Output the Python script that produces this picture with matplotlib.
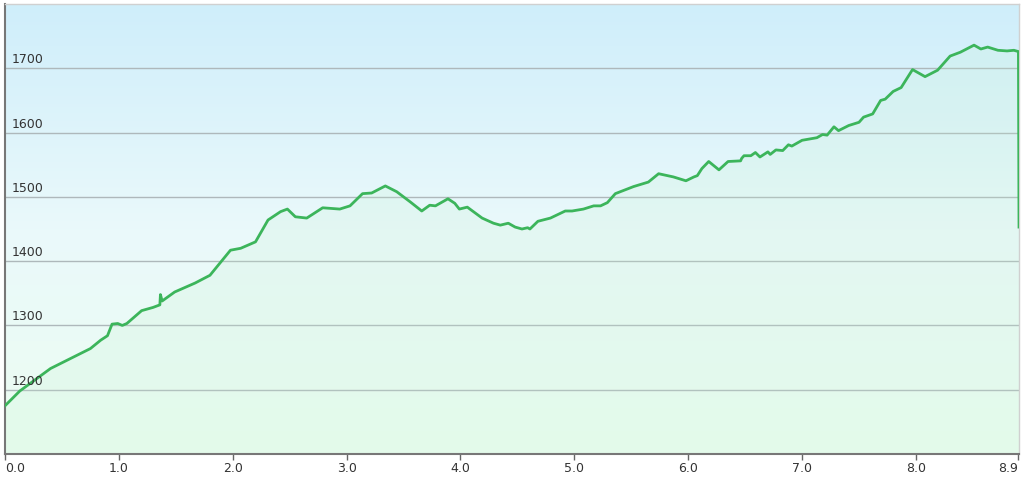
import numpy as np
import matplotlib.pyplot as plt
from matplotlib.colors import LinearSegmentedColormap

# distance (km) and elevation (m)
dist = [0.0, 0.13, 0.4, 0.75, 0.84, 0.9, 0.94, 0.99, 1.03, 1.07, 1.2, 1.3, 1.36, 1.365,
        1.38, 1.49, 1.67, 1.8, 1.98, 2.07, 2.2, 2.31, 2.42, 2.48, 2.55, 2.65, 2.79,
        2.94, 3.03, 3.14, 3.22, 3.34, 3.44, 3.56, 3.66, 3.73, 3.78, 3.89, 3.95, 3.99,
        4.06, 4.19, 4.29, 4.35, 4.42, 4.48, 4.54, 4.59, 4.61, 4.68, 4.79, 4.92, 4.98,
        5.08, 5.17, 5.23, 5.29, 5.36, 5.52, 5.65, 5.74, 5.87, 5.98, 6.05, 6.08, 6.12,
        6.18, 6.27, 6.35, 6.46, 6.47, 6.49, 6.55, 6.59, 6.63, 6.7, 6.72, 6.77, 6.83,
        6.88, 6.91, 7.0, 7.13, 7.18, 7.22, 7.28, 7.32, 7.41, 7.5, 7.54, 7.62, 7.69,
        7.73, 7.8, 7.87, 7.97, 8.08, 8.19, 8.3, 8.39, 8.51, 8.57, 8.63, 8.72, 8.8,
        8.86, 8.9, 8.905]
elev = [1175, 1198, 1233, 1264, 1277, 1284, 1302, 1303, 1300, 1303, 1323, 1328, 1332, 1348,
        1338, 1352, 1366, 1378, 1417, 1420, 1430, 1464, 1477, 1481, 1469, 1467, 1483,
        1481, 1486, 1505, 1506, 1517, 1508, 1492, 1478, 1487, 1486, 1497, 1490, 1481,
        1484, 1467, 1459, 1456, 1459, 1453, 1450, 1452, 1450, 1462, 1467, 1478, 1478,
        1481, 1486, 1486, 1491, 1505, 1516, 1523, 1536, 1531, 1525, 1531, 1533, 1544,
        1555, 1542, 1555, 1556, 1560, 1564, 1564, 1569, 1562, 1570, 1566, 1573, 1572,
        1581, 1579, 1588, 1592, 1597, 1596, 1609, 1603, 1611, 1616, 1624, 1629, 1650,
        1652, 1664, 1670, 1698, 1687, 1697, 1719, 1725, 1736, 1730, 1733, 1728, 1727,
        1728, 1726, 1453]

y_ticks = [1200, 1300, 1400, 1500, 1600, 1700]
x_ticks = [0, 1, 2, 3, 4, 5, 6, 7, 8, 8.9]
x_labels = ['0.0', '1.0', '2.0', '3.0', '4.0', '5.0', '6.0', '7.0', '8.0', '8.9']

fig = plt.figure(figsize=(10.24, 4.78), dpi=100)
ax = fig.add_axes([5 / 1024, 24 / 478, 1014 / 1024, 450 / 478])

xmax = 8.905
ax.set_xlim(0, xmax)
ax.set_ylim(1100, 1800)

# background gradient, light blue on top to light green at bottom
bg = LinearSegmentedColormap.from_list('bg', ['#ecfdf1', '#eaf9fb', '#cfeefa'])
grad = np.linspace(0, 1, 256).reshape(-1, 1)
ax.imshow(grad, cmap=bg, aspect='auto', origin='lower',
          extent=[0, xmax, 1100, 1800], zorder=0)

for v in y_ticks:
    ax.axhline(v, color='#aeb8bb', lw=1, zorder=1)
    ax.text(0.007, v + 3, str(v), transform=ax.get_yaxis_transform(),
            fontsize=9, color='#333333', va='bottom', ha='left', zorder=4)

ax.fill_between(dist, elev, 1100, color='#c4f2cf', alpha=0.18, lw=0, zorder=2)
ax.plot(dist, elev, color='#3cb55b', lw=2, zorder=3)

ax.set_yticks([])
ax.set_xticks(x_ticks)
ax.set_xticklabels(x_labels)
ax.tick_params(axis='x', length=4, width=1, color='#666666', labelsize=9,
               labelcolor='#333333', pad=2)
lbls = ax.get_xticklabels()
lbls[0].set_ha('left')
lbls[-1].set_ha('right')

for side in ['top', 'right']:
    ax.spines[side].set_color('#d0d0d0')
    ax.spines[side].set_linewidth(1)
ax.spines['left'].set_color('#777777')
ax.spines['left'].set_linewidth(1.5)
ax.spines['bottom'].set_color('#777777')
ax.spines['bottom'].set_linewidth(1.5)

fig.savefig('out.png', dpi=100, facecolor='white')
